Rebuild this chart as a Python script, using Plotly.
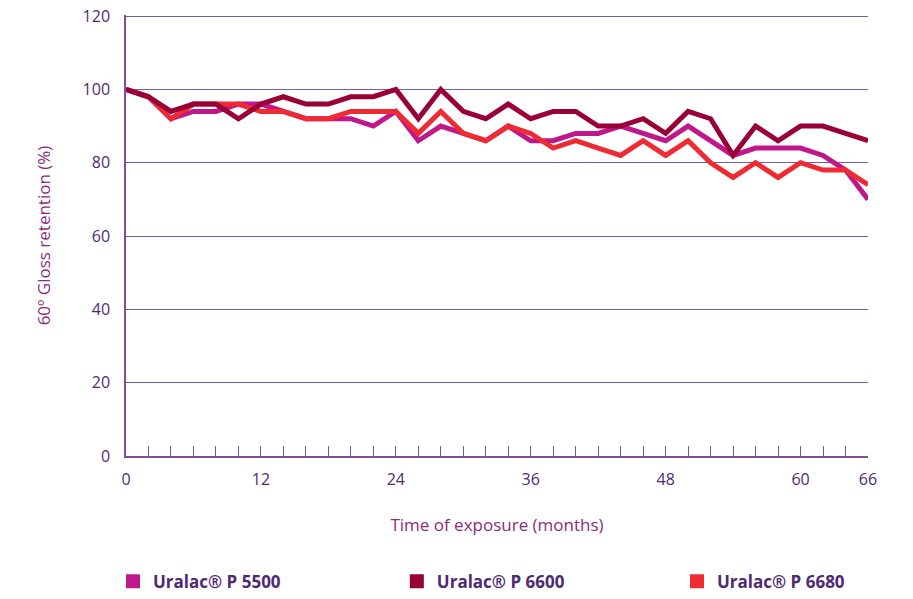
import plotly.graph_objects as go

months = list(range(0, 67, 2))

p5500 = [100, 98, 92, 94, 94, 96, 96, 94, 92, 92, 92, 90, 94, 86, 90, 88, 86, 90,
         86, 86, 88, 88, 90, 88, 86, 90, 86, 82, 84, 84, 84, 82, 78, 70]
p6600 = [100, 98, 94, 96, 96, 92, 96, 98, 96, 96, 98, 98, 100, 92, 100, 94, 92, 96,
         92, 94, 94, 90, 90, 92, 88, 94, 92, 82, 90, 86, 90, 90, 88, 86]
p6680 = [100, 98, 92, 96, 96, 96, 94, 94, 92, 92, 94, 94, 94, 88, 94, 88, 86, 90,
         88, 84, 86, 84, 82, 86, 82, 86, 80, 76, 80, 76, 80, 78, 78, 74]

series = [
    ("Uralac® P 5500", p5500, "#c0178a"),
    ("Uralac® P 6680", p6680, "#ee2b33"),
    ("Uralac® P 6600", p6600, "#9a0038"),
]
legend_order = ["Uralac® P 5500", "Uralac® P 6600", "Uralac® P 6680"]
legend_ids = ["legend", "legend2", "legend3"]
legend_x = [-0.0175, 0.365, 0.7426]

x_labels = {0: "0", 12: "12", 24: "24", 36: "36", 48: "48", 60: "60", 66: "66"}
tick_text = [x_labels.get(m, "") for m in months]
y_ticks = [0, 20, 40, 60, 80, 100, 120]

font_family = "Open Sans, DejaVu Sans, sans-serif"
axis_color = "#7b4f9c"
text_color = "#4e2a72"
title_color = "#8a2c7e"

fig = go.Figure()
for name, vals, col in series:
    fig.add_trace(go.Scatter(x=months, y=vals, mode="lines", name=name,
                             line=dict(color=col, width=5), showlegend=False))

colors = {n: c for n, _, c in series}
for name, lid in zip(legend_order, legend_ids):
    fig.add_trace(go.Scatter(x=[None], y=[None], mode="markers", name=name, legend=lid,
                             marker=dict(symbol="square", size=14, color=colors[name])))

legend_style = dict(orientation="h", xanchor="left", y=-0.285, yanchor="middle",
                    itemwidth=30, bgcolor="rgba(0,0,0,0)",
                    font=dict(size=17, color=text_color, family=font_family, weight="bold"))

fig.update_layout(
    width=913, height=599,
    margin=dict(l=126, r=45, t=15, b=143, autoexpand=False),
    plot_bgcolor="white", paper_bgcolor="white",
    font=dict(family=font_family, color=text_color, size=16),
    legend=dict(x=legend_x[0], **legend_style),
    legend2=dict(x=legend_x[1], **legend_style),
    legend3=dict(x=legend_x[2], **legend_style),
    xaxis=dict(range=[0, 66], tickmode="array", tickvals=months, ticktext=tick_text,
               ticks="inside", ticklen=10, tickcolor=axis_color, tickwidth=1,
               showline=True, linecolor=axis_color, linewidth=1.5,
               showgrid=False, zeroline=False, ticklabelstandoff=8, automargin=False,
               ticklabeloverflow="allow",
               tickfont=dict(size=16, color=text_color),
               title=dict(text="Time of exposure (months)", standoff=30,
                          font=dict(size=17, color=title_color))),
    yaxis=dict(range=[0, 120.3], tickvals=y_ticks,
               showline=True, linecolor=axis_color, linewidth=1.5,
               showgrid=True, gridcolor="#7d5a9e", gridwidth=1, automargin=False,
               zeroline=False, ticks="", ticklabelstandoff=11,
               ticklabeloverflow="allow",
               tickfont=dict(size=16, color=text_color),
               title=dict(text="60º Gloss retention (%)", standoff=28,
                          font=dict(size=17, color=title_color))),
)

fig.write_html("out.html", config={"displayModeBar": False},
               post_script="document.body.style.margin='0px';document.body.style.overflow='hidden';")
